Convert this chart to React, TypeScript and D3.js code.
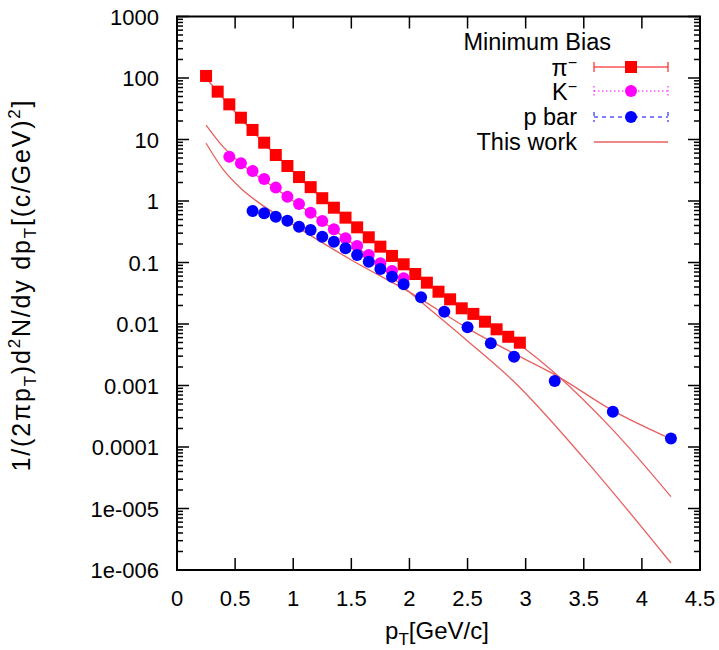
import React from "react";
import * as d3 from "d3";

const piX = [0.25,0.35,0.45,0.55,0.65,0.75,0.85,0.95,1.05,1.15,1.25,1.35,1.45,1.55,1.65,1.75,1.85,1.95,2.05,2.15,2.25,2.35,2.45,2.55,2.65,2.75,2.85,2.95];
const piY = [108,60,37.3,22.6,14.3,8.87,5.6,3.71,2.45,1.68,1.11,0.778,0.536,0.373,0.257,0.181,0.128,0.0935,0.065,0.047,0.0335,0.0252,0.018,0.0146,0.0109,0.0082,0.0062,0.00497];

const kX = [0.45,0.55,0.65,0.75,0.85,0.95,1.05,1.15,1.25,1.35,1.45,1.55,1.65,1.75,1.85,1.95];
const kY = [5.25,4.1,3.07,2.28,1.65,1.17,0.893,0.646,0.473,0.347,0.247,0.185,0.132,0.097,0.0728,0.0553];

const pbarX = [0.65,0.75,0.85,0.95,1.05,1.15,1.25,1.35,1.45,1.55,1.65,1.75,1.85,1.95,2.1,2.3,2.5,2.7,2.9,3.25,3.75,4.25];
const pbarY = [0.687,0.631,0.556,0.479,0.382,0.337,0.263,0.218,0.17,0.132,0.103,0.0784,0.0588,0.0443,0.0272,0.0158,0.00883,0.00486,0.00294,0.00118,0.000375,0.000138];

const piFitX = [0.25,0.5,0.75,1.0,1.25,1.5,1.75,2.0,2.25,2.5,2.75,2.95,3.25,3.75,4.25];
const piFitY = [100,28,8.6,3.0,1.1,0.44,0.18,0.078,0.034,0.016,0.0085,0.0046,0.0016,0.00019,1.56e-5];

const kFitX = [0.25,0.4,0.6,0.8,1.0,1.3,1.6,2.0,2.5,2.9,3.5,4.25];
const kFitY = [17.2,7.5,3.4,1.85,1.0,0.4,0.15,0.033,0.0053,0.00115,6.6e-5,1.3e-6];

const pbarFitX = [0.25,0.4,0.55,0.7,0.95,1.2,1.5,2.0,2.5,2.9,3.25,3.75,4.25];
const pbarFitY = [8.7,3.2,1.6,0.95,0.47,0.24,0.11,0.033,0.0085,0.0033,0.0015,0.00039,0.000135];

const xTicks = [0,0.5,1,1.5,2,2.5,3,3.5,4,4.5];
const xTickLabels = ["0","0.5","1","1.5","2","2.5","3","3.5","4","4.5"];
const yTicks = [1000,100,10,1,0.1,0.01,0.001,0.0001,1e-5,1e-6];
const yTickLabels = ["1000","100","10","1","0.1","0.01","0.001","0.0001","1e-005","1e-006"];

const FONT = "'Liberation Sans', Arial, Helvetica, sans-serif";
const RED = "#ff0000";
const MAG = "#ff00ff";
const BLUE = "#0000ff";
const FIT = "#e86060";

export default function App() {
  const left = 177, right = 700, top = 16.5, bottom = 570;
  const x = d3.scaleLinear().domain([0, 4.5]).range([left, right]);
  const y = d3.scaleLog().domain([1e-6, 1000]).range([bottom, top]);

  const line = d3.line<[number, number]>()
    .x((d) => x(d[0]))
    .y((d) => y(d[1]))
    .curve(d3.curveMonotoneX);

  const zip = (a: number[], b: number[]) => a.map((v, i) => [v, b[i]] as [number, number]);

  const minor: number[] = [];
  for (let e = -6; e < 3; e++) {
    for (let m = 2; m <= 9; m++) minor.push(m * Math.pow(10, e));
  }

  const sq = 12;
  const r = 6;

  return (
    <svg width={719} height={650} style={{ position: "absolute", left: 0, top: 0, background: "#fff" }} fontFamily={FONT}>
      <rect x={0} y={0} width={719} height={650} fill="#fff" />
      {/* fits */}
      <g fill="none" stroke={FIT} strokeWidth={1.3}>
        <path d={line(zip(piFitX, piFitY)) || ""} />
        <path d={line(zip(kFitX, kFitY)) || ""} />
        <path d={line(zip(pbarFitX, pbarFitY)) || ""} />
      </g>
      {/* data */}
      <g fill={RED}>
        {piX.map((v, i) => (
          <rect key={i} x={x(v) - sq / 2} y={y(piY[i]) - sq / 2} width={sq} height={sq} />
        ))}
      </g>
      <g fill={MAG}>
        {kX.map((v, i) => (
          <circle key={i} cx={x(v)} cy={y(kY[i])} r={r} />
        ))}
      </g>
      <g fill={BLUE}>
        {pbarX.map((v, i) => (
          <circle key={i} cx={x(v)} cy={y(pbarY[i])} r={r} />
        ))}
      </g>
      {/* frame */}
      <rect x={left} y={top} width={right - left} height={bottom - top} fill="none" stroke="#000" strokeWidth={2} />
      <g stroke="#000" strokeWidth={1.5}>
        {xTicks.slice(1, -1).map((t, i) => (
          <g key={i}>
            <line x1={x(t)} x2={x(t)} y1={bottom} y2={bottom - 12} />
            <line x1={x(t)} x2={x(t)} y1={top} y2={top + 12} />
          </g>
        ))}
        {yTicks.map((t, i) => (
          <g key={i}>
            <line x1={left} x2={left + 12} y1={y(t)} y2={y(t)} />
            <line x1={right} x2={right - 12} y1={y(t)} y2={y(t)} />
          </g>
        ))}
        {minor.map((t, i) => (
          <g key={i}>
            <line x1={left} x2={left + 6} y1={y(t)} y2={y(t)} />
            <line x1={right} x2={right - 6} y1={y(t)} y2={y(t)} />
          </g>
        ))}
      </g>
      {/* tick labels */}
      <g fontSize={22} fill="#000">
        {xTicks.map((t, i) => (
          <text key={i} x={x(t)} y={606} textAnchor="middle">{xTickLabels[i]}</text>
        ))}
        {yTicks.map((t, i) => (
          <text key={i} x={159} y={y(t) + 8} textAnchor="end">{yTickLabels[i]}</text>
        ))}
      </g>
      {/* axis labels */}
      <text x={437} y={639} fontSize={24} textAnchor="middle">
        p<tspan dy={6} fontSize={17}>T</tspan><tspan dy={-6}>[GeV/c]</tspan>
      </text>
      <text transform="translate(30,285) rotate(-90)" fontSize={25} letterSpacing={1.8} textAnchor="middle">
        1/(2πp<tspan dy={6} fontSize={17}>T</tspan><tspan dy={-6}>)d</tspan><tspan dy={-10} fontSize={17}>2</tspan><tspan dy={10}>N/dy dp</tspan><tspan dy={6} fontSize={17}>T</tspan><tspan dy={-6}>[(c/GeV)</tspan><tspan dy={-10} fontSize={17}>2</tspan><tspan dy={10}>]</tspan>
      </text>
      {/* legend */}
      <g fontSize={23.5} fill="#000" textAnchor="end">
        <text x={611} y={50}>Minimum Bias</text>
        <text x={577} y={76}>π<tspan dy={-8} fontSize={16}>−</tspan></text>
        <text x={577} y={100}>K<tspan dy={-8} fontSize={16}>−</tspan></text>
        <text x={577} y={125}>p bar</text>
        <text x={577} y={150}>This work</text>
      </g>
      <g>
        <g stroke={RED} strokeWidth={1}>
          <line x1={594} x2={668} y1={67} y2={67} />
          <line x1={594} x2={594} y1={62} y2={72} />
          <line x1={668} x2={668} y1={62} y2={72} />
        </g>
        <rect x={631 - sq / 2} y={67 - sq / 2} width={sq} height={sq} fill={RED} />
        <g stroke={MAG} strokeWidth={1} strokeDasharray="1.5,2.5">
          <line x1={594} x2={668} y1={91} y2={91} />
          <line x1={594} x2={594} y1={86} y2={96} />
          <line x1={668} x2={668} y1={86} y2={96} />
        </g>
        <circle cx={631} cy={91} r={r} fill={MAG} />
        <g stroke={BLUE} strokeWidth={1} strokeDasharray="4,4">
          <line x1={594} x2={668} y1={117} y2={117} />
          <line x1={594} x2={594} y1={112} y2={122} />
          <line x1={668} x2={668} y1={112} y2={122} />
        </g>
        <circle cx={631} cy={117} r={r} fill={BLUE} />
        <line x1={594} x2={668} y1={142} y2={142} stroke={FIT} strokeWidth={1.3} />
      </g>
    </svg>
  );
}
